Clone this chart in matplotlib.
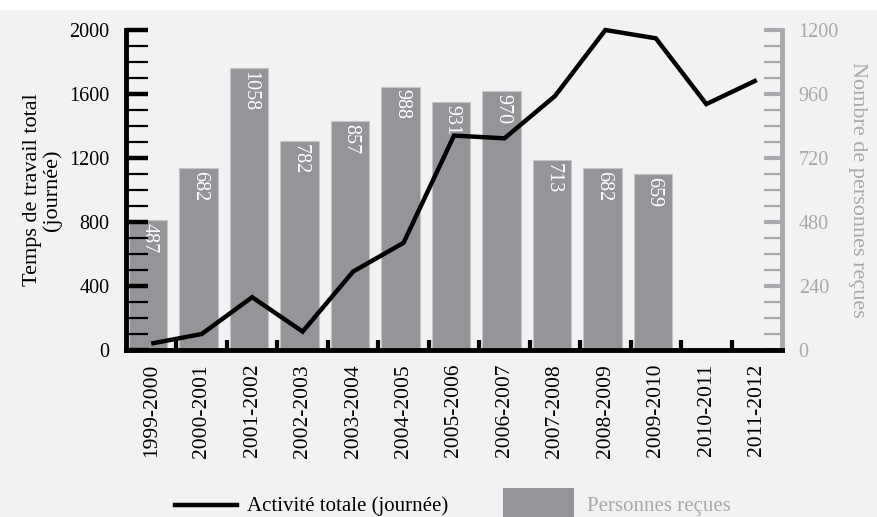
import numpy as np
import matplotlib.pyplot as plt
from matplotlib.lines import Line2D
from matplotlib.patches import Rectangle
from matplotlib.ticker import MultipleLocator, FixedLocator

plt.rcParams['font.family'] = ['Liberation Serif', 'DejaVu Serif']

# data
saisons = ['1999-2000', '2000-2001', '2001-2002', '2002-2003', '2003-2004',
           '2004-2005', '2005-2006', '2006-2007', '2007-2008', '2008-2009',
           '2009-2010', '2010-2011', '2011-2012']
activite = [40, 100, 330, 115, 490, 670, 1340, 1323, 1587, 2000, 1948, 1537, 1687]
personnes = [487, 682, 1058, 782, 857, 988, 931, 970, 713, 682, 659]

bg = '#f1f2f2'
bar_col = '#939598'
gris = '#a7a9ac'
fs = 14.5

fig = plt.figure(figsize=(8.78, 5.17), dpi=100)
fig.patch.set_facecolor(bg)
fig.add_artist(Rectangle((0, 1 - 10 / 517), 1, 10 / 517, transform=fig.transFigure,
                         facecolor='white', edgecolor='none'))

ax = fig.add_axes([126 / 878, 1 - 350 / 517, (782 - 126) / 878, (350 - 30) / 517])
ax2 = ax.twinx()
ax.set_zorder(ax2.get_zorder() + 1)
ax.patch.set_visible(False)
ax2.patch.set_visible(False)

x = np.arange(len(saisons))
xb = np.arange(len(personnes))

# bars (right axis)
ax2.bar(xb - 0.06, personnes, width=0.76, color=bar_col, edgecolor='#c4c5c7', linewidth=0.8)
for xi, v in zip(xb, personnes):
    ax2.annotate(str(v), (xi - 0.04, v), xytext=(0, -2), textcoords='offset points',
                 rotation=-90, ha='center', va='top', color='white', fontsize=fs)
ax2.set_ylim(0, 1200)
ax2.yaxis.set_major_locator(MultipleLocator(240))
ax2.yaxis.set_minor_locator(MultipleLocator(60))
ax2.tick_params(axis='y', which='major', direction='in', length=13, width=3, color=gris,
                labelcolor=gris, labelsize=fs, pad=12)
ax2.tick_params(axis='y', which='minor', direction='in', length=13, width=1.6, color=gris)
for s in ['top', 'left', 'bottom']:
    ax2.spines[s].set_visible(False)
ax2.spines['right'].set_color(gris)
ax2.spines['right'].set_linewidth(3.5)
ax2.set_ylabel('Nombre de personnes reçues', color=gris, fontsize=16, rotation=270,
               labelpad=20)

# line (left axis)
ax.plot(x, activite, color='black', linewidth=3.2, solid_joinstyle='miter',
        solid_capstyle='butt', clip_on=False, zorder=5)
ax.set_ylim(0, 2000)
ax.set_xlim(-0.5, len(saisons) - 0.5)
ax.yaxis.set_major_locator(MultipleLocator(400))
ax.yaxis.set_minor_locator(MultipleLocator(100))
ax.tick_params(axis='y', which='major', direction='in', length=16, width=3.2,
               labelsize=fs, pad=12)
ax.tick_params(axis='y', which='minor', direction='in', length=16, width=1.6)
ax.set_xticks(x)
ax.set_xticklabels(saisons, rotation=90, fontsize=15.5)
ax.xaxis.set_minor_locator(FixedLocator(np.arange(0.5, len(saisons) - 1, 1)))
ax.tick_params(axis='x', which='major', length=0, pad=10)
ax.tick_params(axis='x', which='minor', direction='in', length=7, width=3)
ax.spines['top'].set_visible(False)
ax.spines['right'].set_visible(False)
ax.spines['left'].set_linewidth(3.5)
ax.spines['bottom'].set_linewidth(3.5)
ax.set_ylabel('Temps de travail total\n(journée)', fontsize=16, labelpad=5,
              linespacing=1.05)

# legend drawn at the bottom of the figure
fig.add_artist(Line2D([175 / 878, 237 / 878], [1 - 505 / 517, 1 - 505 / 517],
                      transform=fig.transFigure, color='black', linewidth=3.2))
fig.text(247 / 878, 1 - 506 / 517, 'Activité totale (journée)', fontsize=15,
         va='center', ha='left')
fig.add_artist(Rectangle((503 / 878, 0), 71 / 878, 29 / 517, transform=fig.transFigure,
                         facecolor=bar_col, edgecolor='none'))
fig.text(587 / 878, 1 - 506 / 517, 'Personnes reçues', fontsize=15, color=gris,
         va='center', ha='left')

fig.savefig('out.png', dpi=100, facecolor=fig.get_facecolor())
